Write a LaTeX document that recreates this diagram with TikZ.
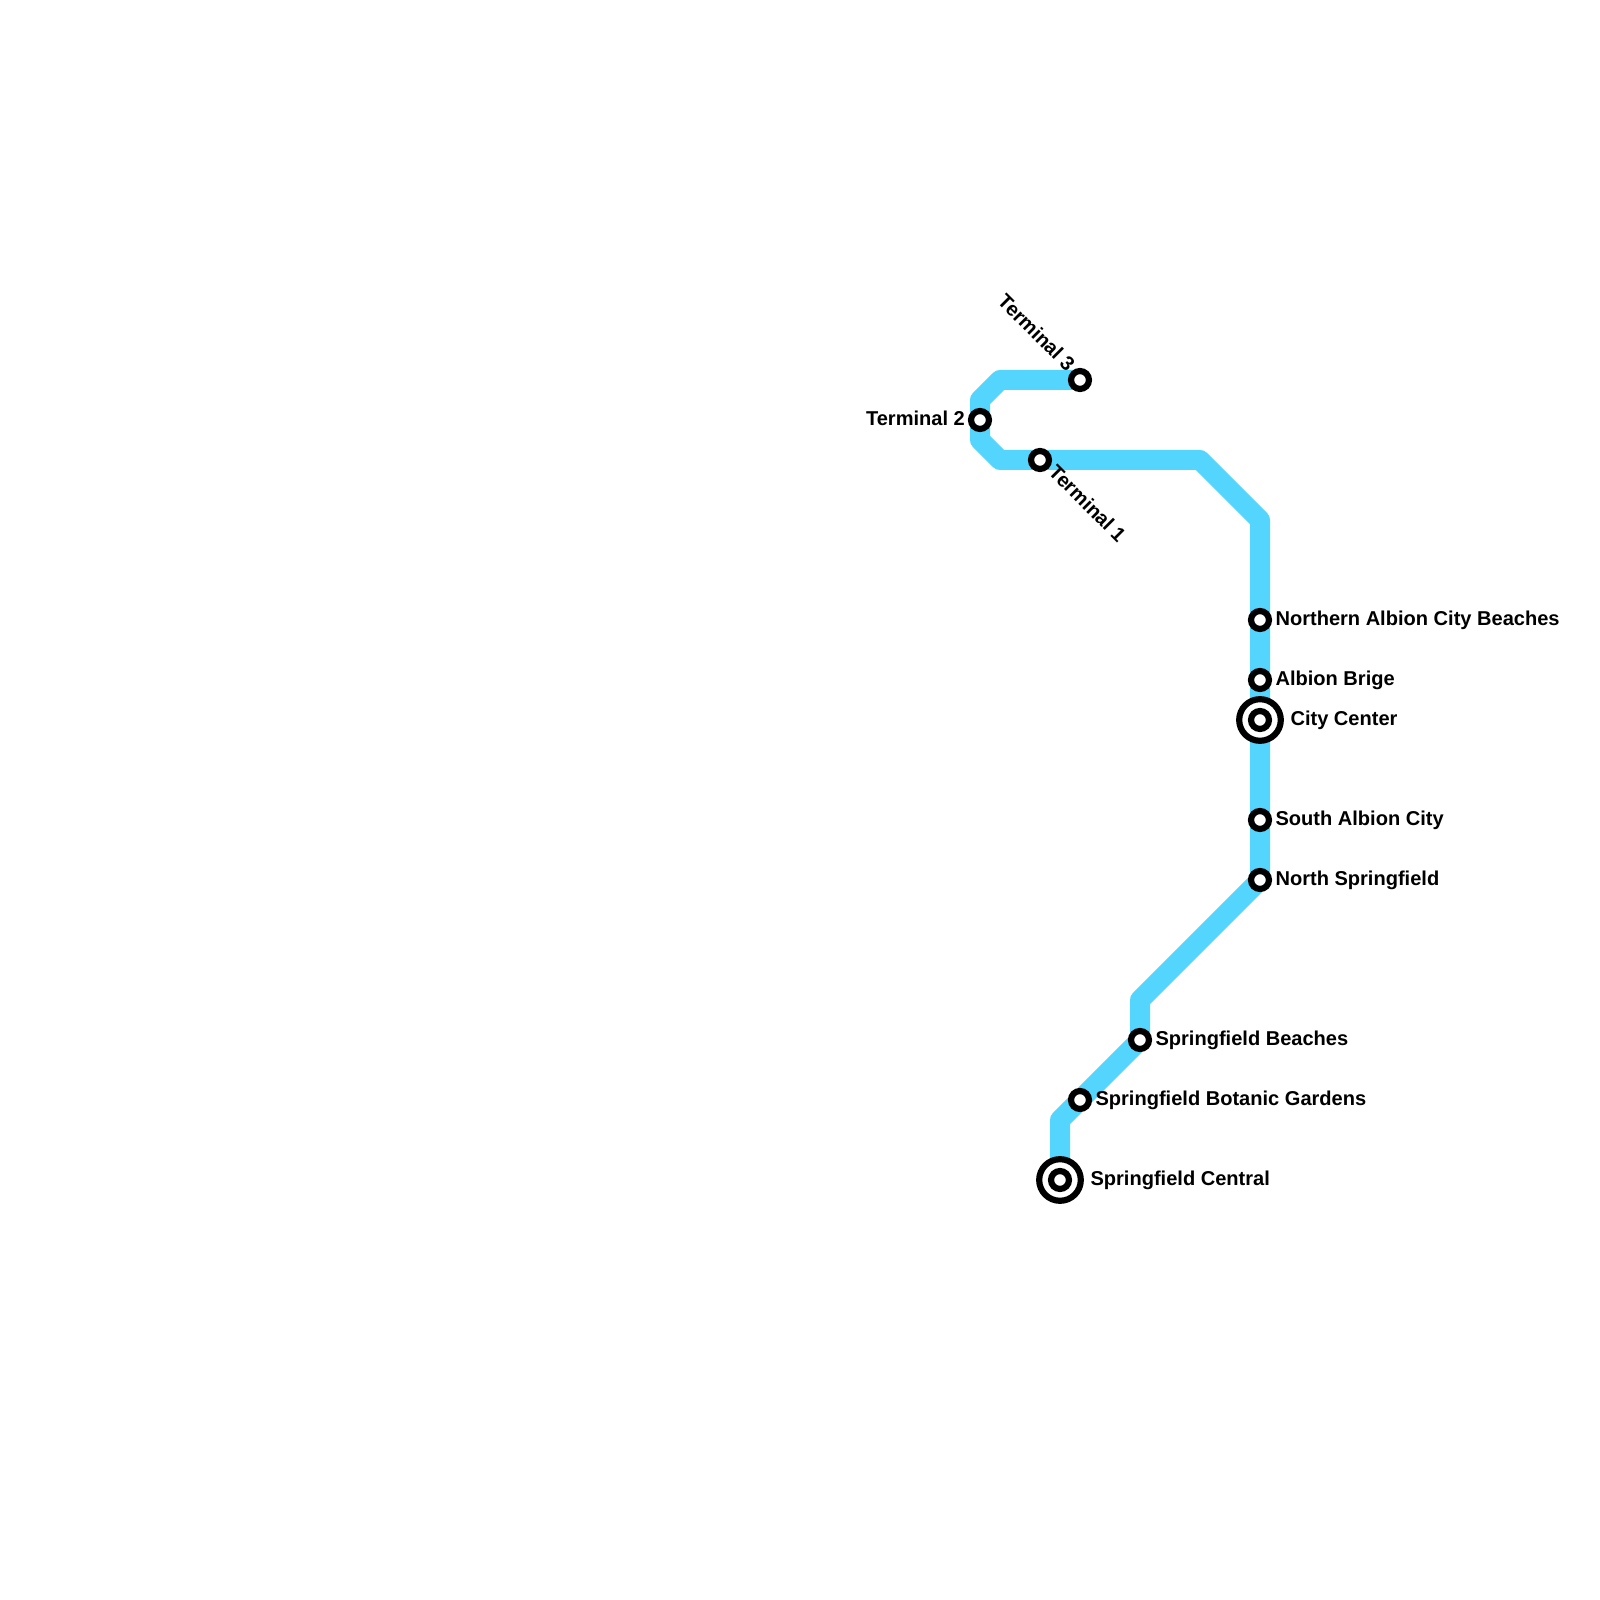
\documentclass[tikz,border=0pt]{standalone}
\usepackage{fontspec}
\setmainfont{Liberation Sans}
\usetikzlibrary{backgrounds}
\definecolor{linecyan}{HTML}{53D5FD}
\tikzset{
    metroline/.style={line width=7.11pt, color=linecyan, line join=round},
    station/.style={circle, draw=black, fill=white, line width=2.2pt, minimum size=6.38pt, inner sep=0pt},
    hubring/.style={circle, draw=black, fill=white, line width=2.2pt, minimum size=14.8pt, inner sep=0pt},
    stationlabel/.style={font=\fontsize{7.13}{8}\selectfont\bfseries, inner sep=0pt},
}

\begin{document}
\begin{tikzpicture}[x=0.25cm, y=0.25cm]

    \useasboundingbox (0,0) rectangle (80,80);

    % Draw interchange rings
    \node[hubring] (cityring) at (63,44) {};
    \node[hubring] (centralring) at (53,21) {};

    % Draw stations & labels on the right
    \foreach \id/\x/\y/\dx/\txt in {
        nabc/63/49/0.75/Northern Albion City Beaches,
        brige/63/46/0.75/Albion Brige,
        city/63/44/1.5/City Center,
        sacity/63/39/0.75/South Albion City,
        nspring/63/36/0.75/North Springfield,
        sbeach/57/28/0.75/Springfield Beaches,
        sbot/54/25/0.75/Springfield Botanic Gardens,
        central/53/21/1.5/Springfield Central}
        \node[station] (\id) at (\x,\y) {}
        node[stationlabel, anchor=base west] (\id label) at (\x+\dx,\y-0.26) {\txt};

    % Draw terminals
    \node[station] (term3) at (54,61) {};
    \node[stationlabel, anchor=south east, rotate=-45] (term3label) at (53.32,61.32) {Terminal 3};

    \node[station] (term2) at (49,59) {};
    \node[stationlabel, anchor=base east] (term2label) at (48.27,58.74) {Terminal 2};

    \node[station] (term1) at (52,57) {};
    \node[stationlabel, anchor=north west, rotate=-45] (term1label) at (52.9,56.88) {Terminal 1};

    % Bends of the line
    \coordinate (bend1) at (50,61);
    \coordinate (bend2) at (49,60);
    \coordinate (bend3) at (49,58);
    \coordinate (bend4) at (50,57);
    \coordinate (bend5) at (60,57);
    \coordinate (bend6) at (63,54);
    \coordinate (bend7) at (57,30);
    \coordinate (bend8) at (53,24);

    % Draw line
    \begin{scope}[on background layer]
        \draw[metroline] (term3.center) -- (bend1) -- (bend2) -- (term2.center) -- (bend3)
            -- (bend4) -- (term1.center) -- (bend5) -- (bend6) -- (nabc.center)
            -- (brige.center) -- (city.center) -- (sacity.center) -- (nspring.center)
            -- (bend7) -- (sbeach.center) -- (sbot.center) -- (bend8) -- (central.center);
    \end{scope}

\end{tikzpicture}
\end{document}
